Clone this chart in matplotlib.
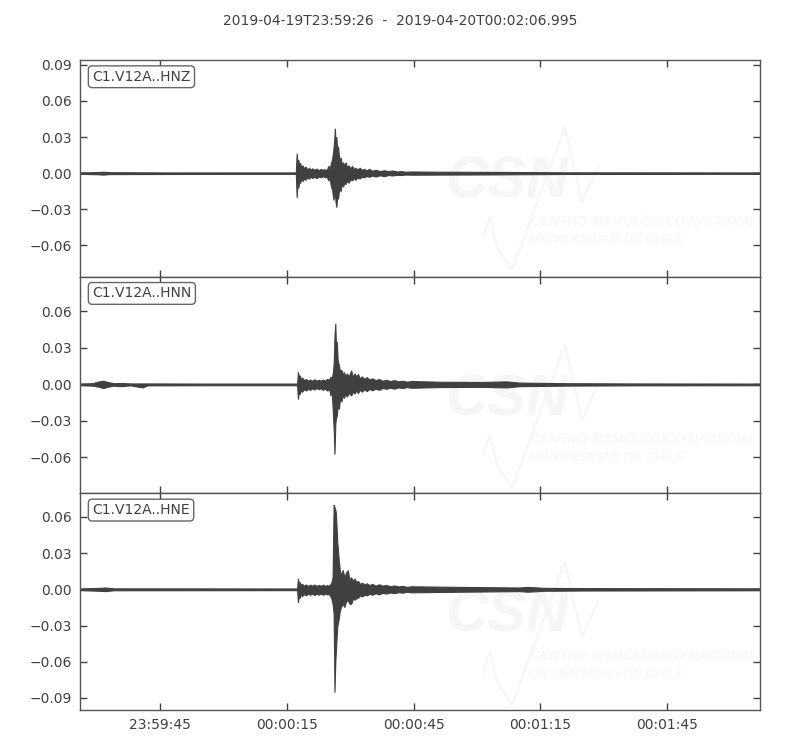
import datetime as dt
import numpy as np
import matplotlib
matplotlib.use("Agg")
import matplotlib.pyplot as plt
from matplotlib.ticker import MultipleLocator, FuncFormatter

# start of the window and length in seconds
start = dt.datetime(2019, 4, 19, 23, 59, 26)
duration = 160.995
title = "2019-04-19T23:59:26  -  2019-04-20T00:02:06.995"
labels = ["C1.V12A..HNZ", "C1.V12A..HNN", "C1.V12A..HNE"]

# envelope of each trace: time (s), upper, lower
hnz_t = [0.0, 4.0, 5.5, 7.0, 20.0, 40.0, 51.1,
         51.3, 51.5, 51.7, 51.9, 52.1, 52.4, 52.7, 53.0, 53.4, 53.8,
         54.2, 54.6, 55.0, 55.5, 56.0, 56.5, 57.0, 57.5, 58.0, 58.4,
         58.8, 59.1, 59.4, 59.7, 60.0, 60.2, 60.35, 60.5, 60.7, 60.9,
         61.1, 61.4, 61.7, 62.0, 62.3, 62.6, 62.9, 63.2, 63.6, 64.0,
         64.4, 64.8, 65.2, 65.7, 66.2, 66.7, 67.2, 67.8, 68.5, 69.2,
         70.0, 71.0, 72.0, 73.0, 74.0, 75.0, 76.0, 77.0, 78.4,
         85.0, 95.0, 105.0, 115.0, 160.995]
hnz_up = [0.0006, 0.0009, 0.0012, 0.0008, 0.0006, 0.0006, 0.0006,
          0.0163, 0.008, 0.011, 0.006, 0.0085, 0.005, 0.0065, 0.004, 0.0055, 0.003,
          0.0045, 0.003, 0.004, 0.0028, 0.0038, 0.0025, 0.0035, 0.0028, 0.0032, 0.0025,
          0.006, 0.004, 0.008, 0.012, 0.020, 0.028, 0.037, 0.025, 0.030, 0.018,
          0.022, 0.010, 0.013, 0.007, 0.009, 0.006, 0.009, 0.005, 0.0065, 0.004,
          0.006, 0.0035, 0.0045, 0.003, 0.0045, 0.0028, 0.0035, 0.0025, 0.0035, 0.002,
          0.0028, 0.0018, 0.0024, 0.0017, 0.0022, 0.0014, 0.0017, 0.0012, 0.0014,
          0.0012, 0.0011, 0.0009, 0.0007, 0.0006]
hnz_lo = [-0.0006, -0.0009, -0.0012, -0.0008, -0.0007, -0.0006, -0.0006,
          -0.020, -0.009, -0.012, -0.007, -0.008, -0.005, -0.0065, -0.0045, -0.0055, -0.0035,
          -0.0045, -0.003, -0.004, -0.003, -0.0042, -0.0028, -0.0035, -0.0025, -0.0035, -0.003,
          -0.006, -0.004, -0.011, -0.014, -0.022, -0.018, -0.015, -0.024, -0.028, -0.019,
          -0.021, -0.012, -0.015, -0.009, -0.011, -0.008, -0.009, -0.006, -0.008, -0.005,
          -0.006, -0.004, -0.0055, -0.0035, -0.0045, -0.003, -0.0035, -0.0025, -0.003, -0.002,
          -0.0028, -0.0018, -0.0025, -0.0016, -0.0019, -0.0014, -0.0016, -0.0012, -0.0013,
          -0.0012, -0.0011, -0.0009, -0.0007, -0.0006]

hnn_t = [0.0, 3.0, 4.5, 5.5, 6.5, 8.0, 9.5, 12.0, 14.8, 16.0, 30.0,
         51.4, 51.6, 51.8, 52.0, 52.3, 52.6, 53.0, 53.5, 54.0, 54.5,
         55.0, 55.5, 56.0, 56.5, 57.0, 57.5, 58.0, 58.5, 59.0, 59.3,
         59.6, 59.9, 60.1, 60.25, 60.45, 60.6, 60.8, 61.0, 61.3, 61.6,
         61.9, 62.2, 62.5, 62.8, 63.2, 63.6, 64.2, 64.6, 65.0, 65.4,
         65.8, 66.3, 66.8, 67.3, 67.9, 68.5, 69.2, 70.0, 70.8, 71.6,
         72.5, 73.4, 74.4, 75.4, 76.4, 77.4, 78.4,
         85.0, 95.0, 101.0, 104.0, 115.0, 130.0, 160.995]
hnn_up = [0.0007, 0.001, 0.0025, 0.003, 0.002, 0.001, 0.0012, 0.0008, 0.0008, 0.0008, 0.0007,
          0.0007, 0.0102, 0.006, 0.0075, 0.0045, 0.0055, 0.0035, 0.0045, 0.003, 0.004,
          0.003, 0.0042, 0.003, 0.0038, 0.003, 0.004, 0.0032, 0.0045, 0.004, 0.0063,
          0.005, 0.0102, 0.020, 0.040, 0.050, 0.030, 0.035, 0.020, 0.0157, 0.010,
          0.012, 0.0085, 0.010, 0.007, 0.009, 0.0065, 0.0115, 0.006, 0.009, 0.0065,
          0.0085, 0.005, 0.0065, 0.0045, 0.006, 0.004, 0.005, 0.0035, 0.0045, 0.003,
          0.0038, 0.0028, 0.0035, 0.0025, 0.003, 0.0022, 0.0028,
          0.0022, 0.002, 0.0025, 0.0015, 0.001, 0.0008, 0.0007]
hnn_lo = [-0.0007, -0.001, -0.002, -0.003, -0.002, -0.001, -0.0015, -0.0008, -0.0025, -0.0008, -0.0007,
          -0.0007, -0.0118, -0.006, -0.008, -0.005, -0.006, -0.004, -0.005, -0.0035, -0.0045,
          -0.0032, -0.0042, -0.003, -0.004, -0.0032, -0.0045, -0.0035, -0.005, -0.004, -0.009,
          -0.006, -0.025, -0.040, -0.057, -0.032, -0.028, -0.0256, -0.018, -0.020, -0.011,
          -0.014, -0.009, -0.011, -0.008, -0.010, -0.007, -0.009, -0.006, -0.0075, -0.005,
          -0.007, -0.0045, -0.006, -0.004, -0.0055, -0.0038, -0.0048, -0.0035, -0.0045, -0.003,
          -0.0036, -0.0028, -0.0035, -0.0025, -0.003, -0.0022, -0.0028,
          -0.0022, -0.002, -0.0025, -0.0015, -0.001, -0.0008, -0.0007]

hne_t = [0.0, 4.5, 6.0, 8.0,
         51.4, 51.6, 51.8, 52.0, 52.3, 52.6, 53.0, 53.5, 54.0, 54.5,
         55.0, 55.5, 56.0, 56.5, 57.0, 57.5, 58.0, 58.5, 59.0, 59.5,
         59.8, 60.05, 60.25, 60.45, 60.6, 60.9, 61.2, 61.5, 61.8, 62.2,
         62.6, 63.0, 63.4, 63.8, 64.2, 64.6, 65.0, 65.4, 65.8, 66.3,
         66.8, 67.3, 67.9, 68.5, 69.2, 70.0, 70.8, 71.6, 72.5, 73.4,
         74.4, 75.4, 76.4, 77.4, 78.4,
         90.0, 104.0, 106.0, 110.0, 120.0, 160.995]
hne_up = [0.0007, 0.0012, 0.0015, 0.0008,
          0.0007, 0.0088, 0.005, 0.006, 0.0035, 0.0045, 0.003, 0.004, 0.0028, 0.0038,
          0.003, 0.004, 0.0028, 0.0036, 0.003, 0.0038, 0.0028, 0.0035, 0.003, 0.0055,
          0.010, 0.070, 0.068, 0.066, 0.0625, 0.040, 0.0267, 0.016, 0.0116, 0.016,
          0.010, 0.014, 0.0157, 0.008, 0.010, 0.007, 0.009, 0.006, 0.007, 0.0045,
          0.0055, 0.004, 0.005, 0.0035, 0.0045, 0.003, 0.0042, 0.003, 0.0036, 0.0026,
          0.0032, 0.0024, 0.0028, 0.002, 0.0025,
          0.002, 0.0015, 0.002, 0.0012, 0.001, 0.0008]
hne_lo = [-0.0007, -0.0012, -0.0015, -0.0008,
          -0.0007, -0.0105, -0.006, -0.007, -0.0045, -0.0055, -0.004, -0.005, -0.0035, -0.0045,
          -0.0035, -0.0048, -0.0035, -0.0045, -0.0035, -0.0045, -0.0035, -0.0042, -0.004, -0.0075,
          -0.012, -0.020, -0.085, -0.060, -0.050, -0.031, -0.0256, -0.018, -0.0146, -0.012,
          -0.0146, -0.010, -0.009, -0.012, -0.012, -0.008, -0.0085, -0.0074, -0.007, -0.005,
          -0.006, -0.0045, -0.005, -0.0038, -0.0045, -0.0033, -0.0042, -0.003, -0.0035, -0.0026,
          -0.0032, -0.0024, -0.0028, -0.002, -0.0025,
          -0.002, -0.0015, -0.002, -0.0012, -0.001, -0.0008]

traces = [(hnz_t, hnz_up, hnz_lo), (hnn_t, hnn_up, hnn_lo), (hne_t, hne_up, hne_lo)]
ylims = [(-0.0860, 0.0940), (-0.0895, 0.0885), (-0.1000, 0.0795)]
xticks = [19, 49, 79, 109, 139]

# watermark vertical centre (pixels) in each panel
wm_y = [182, 400, 617]

gray = "#404040"
plt.rcParams["font.family"] = "DejaVu Sans"
fig, axes = plt.subplots(3, 1, sharex=True, figsize=(8, 7.5), dpi=100)
fig.subplots_adjust(left=0.1, right=0.95, top=0.92, bottom=0.0533, hspace=0)

def tfmt(v, pos):
    return (start + dt.timedelta(seconds=float(v))).strftime("%H:%M:%S")

def yfmt(v, pos):
    return ("%.2f" % v).replace("-", "\u2212")

def fx(x):
    return x / 800.0

def fy(y):
    return 1 - y / 750.0

wmfont = ["Liberation Sans", "DejaVu Sans"]
for i, ax in enumerate(axes):
    t, up, lo = traces[i]
    # faint CSN logo behind the trace
    cy = wm_y[i]
    wmc = "#f6f6f6"
    ax.text(fx(507), fy(cy), "CSN", transform=fig.transFigure, fontsize=42,
            family=wmfont, fontweight="bold", fontstyle="italic", color=wmc,
            ha="center", va="center", zorder=0, clip_on=True)
    ax.text(fx(531), fy(cy + 40), "CENTRO SISMOLÓGICO NACIONAL",
            transform=fig.transFigure, fontsize=9.5, family=wmfont,
            fontstyle="italic", color=wmc, ha="left", va="center", zorder=0,
            clip_on=True)
    ax.text(fx(529), fy(cy + 58), "UNIVERSIDAD DE CHILE",
            transform=fig.transFigure, fontsize=9.5, family=wmfont,
            fontstyle="italic", color=wmc, ha="left", va="center", zorder=0,
            clip_on=True)
    wx = [483, 490, 497, 512, 565, 582, 598]
    wy = [55, 35, 65, 88, -55, 20, -15]
    ax.plot([fx(v) for v in wx], [fy(cy + v) for v in wy], color=wmc, lw=1.5,
            transform=fig.transFigure, zorder=0, clip_on=True)

    ax.fill_between(t, lo, up, color=gray, lw=0.8, zorder=2)
    ax.set_xlim(0, duration)
    ax.set_ylim(*ylims[i])
    ax.yaxis.set_major_locator(MultipleLocator(0.03))
    ax.yaxis.set_major_formatter(FuncFormatter(yfmt))
    ax.set_xticks(xticks)
    ax.xaxis.set_major_formatter(FuncFormatter(tfmt))
    ax.tick_params(direction="in", length=5, width=1, top=True, right=True,
                   colors=gray, labelsize=10, labelcolor=gray, pad=6)
    for s in ax.spines.values():
        s.set_color("#555555")
        s.set_linewidth(1)
    ax.text(0.018, 0.955, labels[i], transform=ax.transAxes, fontsize=10,
            color=gray, ha="left", va="top", zorder=5,
            bbox=dict(boxstyle="round,pad=0.28", fc="white", ec="#666666", lw=1))

fig.text(0.5, fy(21), title, ha="center", va="center", fontsize=10, color=gray)
fig.savefig("out.png", dpi=100)
